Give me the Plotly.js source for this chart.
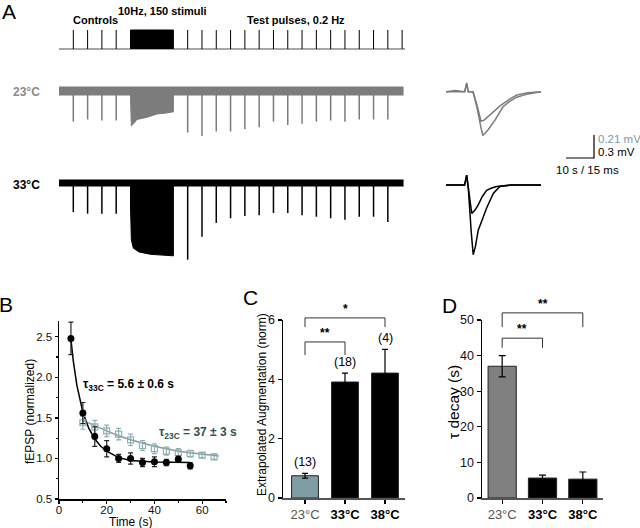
<!DOCTYPE html>
<html>
<head>
<meta charset="utf-8">
<script src="https://cdn.plot.ly/plotly-3.0.1.min.js"></script>
<style>
html, body { margin: 0; padding: 0; background: #fff; }
#fig { width: 640px; height: 528px; }
</style>
</head>
<body>
<div id="fig"></div>
<script>
// ---- A: stimulation protocol (s) ----
const controlTimes = [0, 5, 10, 15];
const trainStart = 20;
const trainEnd = 35;
const testTimes = [40, 45, 50, 55, 60, 65, 70, 75, 80, 85, 90, 95, 100, 105, 110, 115];
const recStart = -5;
const recEnd = 115.5;

// fEPSP peaks per stimulus (mV)
const peak23Control = [-0.28, -0.26, -0.27, -0.27];
const peak23Test = [-0.38, -0.41, -0.37, -0.37, -0.35, -0.33, -0.28, -0.31, -0.30, -0.28, -0.27, -0.28, -0.26, -0.26, -0.26];
const peak33Control = [-0.38, -0.40, -0.40, -0.40];
const peak33Test = [-1.00, -0.70, -0.52, -0.46, -0.43, -0.42, -0.39, -0.39, -0.42, -0.44, -0.46, -0.48, -0.44, -0.44, -0.51];

// envelope of the 10 Hz train (s, mV)
const train23T = [20, 20.3, 22.3, 25.8, 29.3, 32.8, 35];
const train23V = [-0.05, -0.32, -0.26, -0.24, -0.21, -0.20, -0.19];
const train33T = [20, 20.3, 21, 23, 27, 31, 35];
const train33V = [-0.30, -0.74, -0.85, -0.90, -0.93, -0.94, -0.95];

// example sweeps (ms, mV)
const sw23aT = [0, 5, 10, 11.1, 12, 14.5, 16.6, 18.8, 20.5, 22.5, 25, 29, 34, 38, 44, 51];
const sw23aV = [0, 0.01, 0, 0.08, 0, 0, -0.12, -0.27, -0.26, -0.23, -0.19, -0.13, -0.07, -0.03, -0.01, 0];
const sw23bT = [0, 10, 11.1, 12, 14.5, 16.6, 18.8, 19.8, 22.5, 26.3, 30.5, 34, 38, 44, 51];
const sw23bV = [0, 0, 0.07, 0, 0, -0.14, -0.33, -0.40, -0.35, -0.26, -0.14, -0.09, -0.05, -0.02, 0];
const sw33aT = [0, 10, 11.1, 12, 13.8, 15.5, 17.3, 19.5, 21.8, 24.5, 27.2, 35, 51];
const sw33aV = [0, 0, 0.13, -0.05, -0.37, -0.33, -0.26, -0.15, -0.07, -0.04, -0.02, 0, 0];
const sw33bT = [0, 10, 11.1, 12, 13.5, 14.6, 15.8, 17.3, 19.5, 21.8, 25.4, 28.9, 35, 51];
const sw33bV = [0, 0, 0.13, -0.05, -0.6, -0.91, -0.80, -0.59, -0.45, -0.30, -0.11, -0.02, 0, 0];
const scaleMs = 15;
const scaleMv23 = 0.21;

// ---- B: decay of augmentation ----
const t33 = [5, 10, 15, 20, 25, 30, 35, 40, 45, 50, 55];
const f33 = [2.48, 1.56, 1.27, 1.12, 1.0, 1.0, 0.95, 0.96, 0.95, 0.99, 0.91];
const f33Err = [0.2, 0.13, 0.12, 0.1, 0.05, 0.07, 0.05, 0.06, 0.04, 0.04, 0.04];
const t23 = [10, 15, 20, 25, 30, 35, 40, 45, 50, 55, 60, 65];
const f23 = [1.44, 1.39, 1.34, 1.30, 1.23, 1.16, 1.12, 1.09, 1.07, 1.06, 1.04, 1.02];
const f23Err = [0.08, 0.08, 0.07, 0.07, 0.07, 0.06, 0.06, 0.05, 0.05, 0.04, 0.03, 0.03];
const fit33T = [5, 6, 7.5, 9, 10, 12.5, 15, 17.5, 20, 25, 30, 40, 55];
const fit33V = [2.47, 2.2, 1.9, 1.68, 1.57, 1.37, 1.24, 1.15, 1.09, 1.01, 0.975, 0.955, 0.95];
const fit23T = [10, 15, 20, 25, 30, 35, 40, 45, 50, 55, 60, 67];
const fit23V = [1.47, 1.40, 1.34, 1.28, 1.23, 1.19, 1.15, 1.12, 1.09, 1.07, 1.05, 1.03];

// ---- C / D: summary bars ----
const temps = ["23°C", "33°C", "38°C"];
const aug = [0.75, 3.91, 4.21];
const augErr = [0.08, 0.3, 0.8];
const augN = ["(13)", "(18)", "(4)"];
const augPairs = [[0, 1], [0, 2]];
const augStars = ["**", "*"];
const augBrTop = [5.26, 6.07];
const augBrLeg = [4.82, 5.76];
const tau = [37, 5.6, 5.3];
const tauErr = [3, 0.8, 2];
const tauPairs = [[0, 1], [0, 2]];
const tauStars = ["**", "**"];
const tauBrTop = [44.9, 52.0];
const tauBrLeg = [42.2, 48.0];

const W = 640, H = 528;
const dx = (a, b) => [a / W, b / W];
const dy = (top, bot) => [1 - bot / H, 1 - top / H];
// strip whose zero sits at basePx, per = units per pixel
const strip = (top, bot, base, per) => ({ domain: dy(top, bot), range: [-(bot - base) * per, (base - top) * per] });
const hid = { visible: false, showgrid: false, zeroline: false, fixedrange: true };

const GRAY = "#7c7c7c";
const TEAL = "#8fb0b4";
const FONT = "Arial, 'Liberation Sans', sans-serif";

function pulses(times, peaks) {
	const x = [], y = [];
	peaks.forEach((p, i) => { x.push(times[i], times[i], null); y.push(0, p, null); });
	return { x, y };
}

function recording(xa, ya, ctl, test, trT, trV, color, band) {
	const p = pulses(controlTimes.concat(testTimes), ctl.concat(test));
	return [
		{ x: [recStart, recEnd], y: [0, 0], xaxis: xa, yaxis: ya, mode: "lines", line: { color: color, width: band } },
		{ x: [trainStart].concat(trT, [trainEnd]), y: [0].concat(trV, [0]), xaxis: xa, yaxis: ya, mode: "lines",
			fill: "toself", fillcolor: color, line: { color: color, width: 1 } },
		{ x: p.x, y: p.y, xaxis: xa, yaxis: ya, mode: "lines", line: { color: color, width: 1.5 } }
	];
}

function brackets(xa, ya, pairs, top, leg) {
	const x = [], y = [];
	pairs.forEach((pr, i) => {
		x.push(pr[0], pr[0], pr[1], pr[1], null);
		y.push(leg[i], top[i], top[i], leg[i], null);
	});
	return { x, y, xaxis: xa, yaxis: ya, mode: "lines", line: { color: "#333", width: 1 } };
}

const stim = pulses(controlTimes.concat(testTimes), controlTimes.concat(testTimes).map(() => 1));

const data = [
	// stimulus row
	{ x: [recStart, recEnd + 0.5], y: [0, 0], xaxis: "x", yaxis: "y", mode: "lines", line: { color: "#8a8a8a", width: 1.5 } },
	{ x: stim.x, y: stim.y, xaxis: "x", yaxis: "y", mode: "lines", line: { color: "#000", width: 1 } },
	{ x: [trainStart, trainStart, trainEnd, trainEnd], y: [0, 1, 1, 0], xaxis: "x", yaxis: "y", mode: "lines",
		fill: "toself", fillcolor: "#000", line: { color: "#000", width: 1 } },
	...recording("x", "y2", peak23Control, peak23Test, train23T, train23V, GRAY, 9),
	...recording("x", "y3", peak33Control, peak33Test, train33T, train33V, "#000", 7),
	// example sweeps
	{ x: sw23aT, y: sw23aV, xaxis: "x2", yaxis: "y4", mode: "lines", line: { color: GRAY, width: 1.5 } },
	{ x: sw23bT, y: sw23bV, xaxis: "x2", yaxis: "y4", mode: "lines", line: { color: GRAY, width: 1.5 } },
	{ x: sw33aT, y: sw33aV, xaxis: "x3", yaxis: "y5", mode: "lines", line: { color: "#000", width: 1.5 } },
	{ x: sw33bT, y: sw33bV, xaxis: "x3", yaxis: "y5", mode: "lines", line: { color: "#000", width: 1.5 } },
	// scale bar
	{ x: [0, scaleMs, scaleMs], y: [0, 0, scaleMv23], xaxis: "x4", yaxis: "y6", mode: "lines", line: { color: "#000", width: 1.2 } },
	// B
	{ x: fit23T, y: fit23V, xaxis: "x5", yaxis: "y7", mode: "lines", line: { color: "#889a9c", width: 1.5 } },
	{ x: fit33T, y: fit33V, xaxis: "x5", yaxis: "y7", mode: "lines", line: { color: "#000", width: 1.5 } },
	{ x: t23, y: f23, xaxis: "x5", yaxis: "y7", mode: "markers", cliponaxis: false,
		marker: { symbol: "square-open", size: 6, color: TEAL, line: { width: 1.2 } },
		error_y: { type: "data", array: f23Err, color: TEAL, thickness: 1.2, width: 2.5 } },
	{ x: t33, y: f33, xaxis: "x5", yaxis: "y7", mode: "markers", cliponaxis: false,
		marker: { symbol: "circle", size: 7, color: "#000" },
		error_y: { type: "data", array: f33Err, color: "#222", thickness: 1.2, width: 2.5 } },
	// C
	{ x: temps, y: aug, type: "bar", xaxis: "x6", yaxis: "y8", width: 0.67,
		marker: { color: ["#7f9ea3", "#000", "#000"], line: { color: "#222", width: 1 } },
		error_y: { type: "data", array: augErr, color: "#000", thickness: 1.2, width: 3 } },
	brackets("x7", "y9", augPairs, augBrTop, augBrLeg),
	// D
	{ x: temps, y: tau, type: "bar", xaxis: "x8", yaxis: "y10", width: 0.7,
		marker: { color: ["#808080", "#000", "#000"], line: { color: "#222", width: 1 } },
		error_y: { type: "data", array: tauErr, color: "#000", thickness: 1.2, width: 3.5 } },
	brackets("x9", "y11", tauPairs, tauBrTop, tauBrLeg)
];

const axisStyle = {
	showline: true, linecolor: "#000", linewidth: 1.5, ticks: "outside", ticklen: 4, tickwidth: 1.2,
	tickcolor: "#000", showgrid: false, zeroline: false, fixedrange: true,
	tickfont: { family: FONT, size: 12.5, color: "#111" }
};
const catTicks = temps.map((t, i) => i === 0 ? "<span style='color:#555'>" + t + "</span>" : "<b>" + t + "</b>");

const ann = [];
function label(text, x, y, opts) {
	ann.push(Object.assign({ text: text, xref: "paper", yref: "paper", x: x / W, y: 1 - y / H,
		xanchor: "left", yanchor: "middle", showarrow: false, font: { family: FONT, size: 12, color: "#000" } }, opts || {}));
}
label("A", 9, 12, { xanchor: "center", font: { family: FONT, size: 21 } });
label("B", 6, 304, { xanchor: "center", font: { family: FONT, size: 21 } });
label("C", 250, 297, { xanchor: "center", font: { family: FONT, size: 21 } });
label("D", 449, 305, { xanchor: "center", font: { family: FONT, size: 21 } });
label("<b>Controls</b>", 95, 20, { xanchor: "center", font: { family: FONT, size: 11 } });
label("<b>10Hz, 150 stimuli</b>", 162, 11, { xanchor: "center", font: { family: FONT, size: 11 } });
label("<b>Test pulses, 0.2 Hz</b>", 296, 20, { xanchor: "center", font: { family: FONT, size: 11 } });
label("<b>23°C</b>", 11, 92, { font: { family: FONT, size: 12, color: "#8a8a8a" } });
label("<b>33°C</b>", 11, 185, { font: { family: FONT, size: 12, color: "#000" } });
label("0.21 mV", 596, 139, { font: { family: FONT, size: 11.5, color: "#7c9ca2" } });
label("0.3 mV", 596, 152, { font: { family: FONT, size: 11.5 } });
label("10 s / 15 ms", 554, 170, { font: { family: FONT, size: 11.5 } });
label("<b>τ<sub>33C</sub> = 5.6 ± 0.6 s</b>", 81, 385, { font: { family: FONT, size: 12 } });
label("<b>τ<sub>23C</sub> = 37 ± 3 s</b>", 157, 433, { font: { family: FONT, size: 12, color: "#2e5252" } });
// axis titles
label("Time (s)", 131, 522, { xanchor: "center", font: { family: FONT, size: 12 } });
label("fEPSP (normalized)", 30, 412, { xanchor: "center", textangle: -90, font: { family: FONT, size: 12 } });
label("Extrapolated Augmentation (norm)", 262, 405, { xanchor: "center", textangle: -90, font: { family: FONT, size: 12 } });
label("τ decay (s)", 453, 402, { xanchor: "center", textangle: -90, font: { family: FONT, size: 15.5 } });

augN.forEach((n, i) => ann.push({ text: n, xref: "x6", yref: "y8", x: temps[i], y: aug[i] + augErr[i],
	yanchor: "bottom", yshift: 2, showarrow: false, font: { family: FONT, size: 12.5, color: "#000" } }));
augPairs.forEach((pr, i) => ann.push({ text: "<b>" + augStars[i] + "</b>", xref: "x7", yref: "y9", x: (pr[0] + pr[1]) / 2,
	y: augBrTop[i], yanchor: "bottom", yshift: 0, showarrow: false, font: { family: FONT, size: 12, color: "#000" } }));
tauPairs.forEach((pr, i) => ann.push({ text: "<b>" + tauStars[i] + "</b>", xref: "x9", yref: "y11", x: (pr[0] + pr[1]) / 2,
	y: tauBrTop[i], yanchor: "bottom", yshift: 0, showarrow: false, font: { family: FONT, size: 12, color: "#000" } }));

const bTickFont = { family: FONT, size: 11.5, color: "#111" };

const layout = {
	width: W, height: H,
	margin: { l: 0, r: 0, t: 0, b: 0, pad: 0 },
	paper_bgcolor: "#fff",
	plot_bgcolor: "rgba(0,0,0,0)",
	showlegend: false,
	font: { family: FONT, color: "#000" },
	bargap: 0,
	xaxis: { ...hid, domain: dx(59, 405), range: [-5, 116], anchor: "y" },
	yaxis: { ...hid, ...strip(26, 54, 49, 1 / 19), anchor: "x" },
	yaxis2: { ...hid, ...strip(76, 150, 91, 0.21 / 23), anchor: "x" },
	yaxis3: { ...hid, ...strip(168, 272, 183, 0.3 / 23), anchor: "x" },
	xaxis2: { ...hid, domain: dx(446, 541), range: [0, 51], anchor: "y4" },
	yaxis4: { ...hid, ...strip(76, 145, 91.7, 0.21 / 23), anchor: "x2" },
	xaxis3: { ...hid, domain: dx(446, 541), range: [0, 51], anchor: "y5" },
	yaxis5: { ...hid, ...strip(165, 265, 185, 0.3 / 23), anchor: "x3" },
	xaxis4: { ...hid, domain: dx(560, 600), range: [-6 * 15 / 28, 34 * 15 / 28], anchor: "y6" },
	yaxis6: { ...hid, ...strip(125, 165, 158, 0.21 / 23), anchor: "x4" },
	xaxis5: { ...axisStyle, domain: dx(59, 226), range: [0, 70], anchor: "y7", dtick: 20, tick0: 0,
		ticklen: 3, ticklabelstandoff: -3, tickfont: bTickFont,
		minor: { ticks: "outside", ticklen: 2, dtick: 10, tickcolor: "#000" } },
	yaxis7: { ...axisStyle, domain: dy(320.6, 499), range: [0.5, 2.7], anchor: "x5", dtick: 0.5, tick0: 0.5, tickformat: ".1f",
		ticklen: 3, tickfont: bTickFont,
		minor: { ticks: "outside", ticklen: 2, dtick: 0.25, tickcolor: "#000" } },
	xaxis6: { ...axisStyle, type: "category", domain: dx(283, 405), range: [-0.55, 2.5], anchor: "y8",
		linecolor: "#555", tickvals: temps, ticktext: catTicks, tickfont: { family: FONT, size: 13, color: "#000" } },
	yaxis8: { ...axisStyle, domain: dy(320, 498), range: [0, 6], anchor: "x6", dtick: 2 },
	xaxis7: { ...hid, domain: dx(283, 405), range: [-0.55, 2.5], anchor: "y9" },
	yaxis9: { ...hid, domain: dy(290, 498), range: [0, 6 * 208 / 178], anchor: "x7" },
	xaxis8: { ...axisStyle, type: "category", domain: dx(482, 603), range: [-0.5, 2.5], anchor: "y10",
		linecolor: "#555", tickvals: temps, ticktext: catTicks, tickfont: { family: FONT, size: 13, color: "#000" } },
	yaxis10: { ...axisStyle, domain: dy(320, 498), range: [0, 50], anchor: "x8", dtick: 10 },
	xaxis9: { ...hid, domain: dx(482, 603), range: [-0.5, 2.5], anchor: "y11" },
	yaxis11: { ...hid, domain: dy(290, 498), range: [0, 50 * 208 / 178], anchor: "x9" },
	annotations: ann
};

Plotly.newPlot("fig", data, layout, { staticPlot: true, displayModeBar: false });
</script>
</body>
</html>
